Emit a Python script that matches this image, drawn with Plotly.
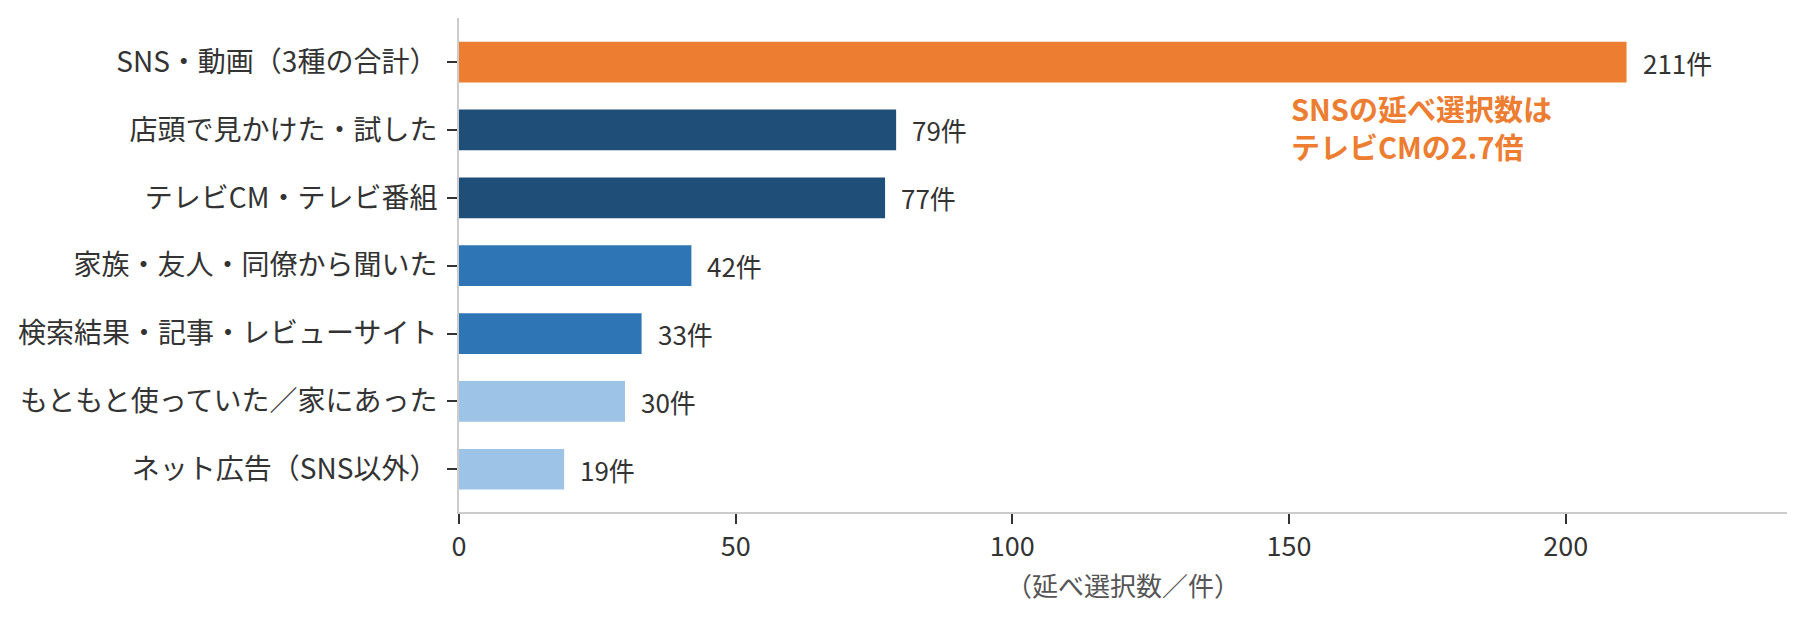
import plotly.graph_objects as go

categories = [
    "SNS・動画（3種の合計）",
    "店頭で見かけた・試した",
    "テレビCM・テレビ番組",
    "家族・友人・同僚から聞いた",
    "検索結果・記事・レビューサイト",
    "もともと使っていた／家にあった",
    "ネット広告（SNS以外）",
]
values = [211, 79, 77, 42, 33, 30, 19]
bar_colors = ["#ED7D31", "#1F4E79", "#1F4E79", "#2E75B6", "#2E75B6", "#9DC3E6", "#9DC3E6"]
value_labels = [f"{v}件" for v in values]
x_ticks = [0, 50, 100, 150, 200]
x_title = "（延べ選択数／件）"
note_text = "SNSの延べ選択数は<br>テレビCMの2.7倍"
note_x = 150
note_y = 0.96

FONT = "Noto Sans CJK JP"
TXT = "#333333"

fig = go.Figure()
fig.add_trace(go.Bar(
    x=values, y=categories, orientation="h",
    marker=dict(color=bar_colors, line=dict(width=0)),
    width=0.6, hoverinfo="skip",
))

for v, c, lab in zip(values, categories, value_labels):
    fig.add_annotation(x=v, y=c, text=lab, showarrow=False, xanchor="left",
                       xshift=14, font=dict(family=FONT, size=26, color=TXT))

fig.add_annotation(x=note_x, y=note_y, text=note_text, showarrow=False,
                   xanchor="left", yanchor="middle", align="left",
                   font=dict(family=FONT, size=29, color="#ED7D31", weight="bold"))

fig.update_layout(
    width=1792, height=604,
    margin=dict(l=446, r=13, t=10, b=100),
    paper_bgcolor="white", plot_bgcolor="white",
    showlegend=False,
    font=dict(family=FONT, size=26, color=TXT),
    bargap=0.4,
)
fig.update_xaxes(
    range=[0, 240], tickvals=x_ticks, showgrid=False, zeroline=False,
    showline=True, linecolor="#cccccc", linewidth=2,
    ticks="outside", ticklen=10, tickwidth=2, tickcolor="#333333",
    tickfont=dict(family=FONT, size=27, color=TXT),
    title=dict(text=x_title, font=dict(family=FONT, size=26, color="#555555"), standoff=14),
)
fig.update_yaxes(
    categoryorder="array", categoryarray=categories,
    range=[6.63, -0.65], showgrid=False, zeroline=False,
    showline=True, linecolor="#cccccc", linewidth=2,
    ticks="outside", ticklen=10, tickwidth=2, tickcolor="#333333",
    ticklabelstandoff=4,
    tickfont=dict(family=FONT, size=28, color=TXT),
)

fig.write_html("out.html")
